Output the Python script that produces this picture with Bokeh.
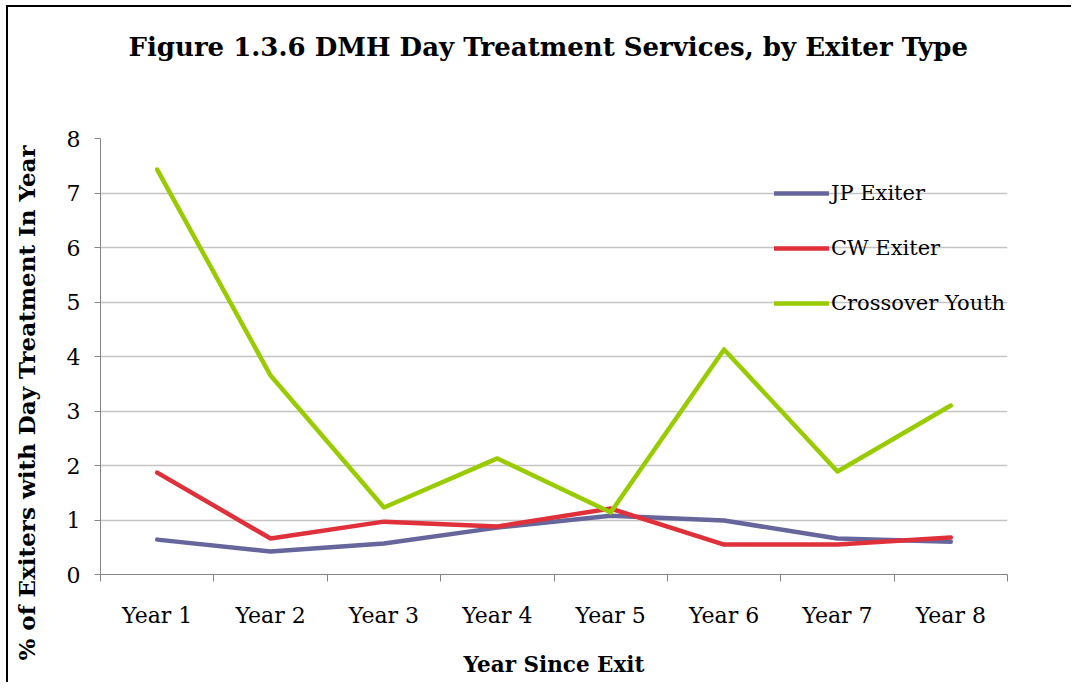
import numpy as np
from bokeh.plotting import figure
from bokeh.models import Range1d, FixedTicker, Legend, LegendItem, Title
from bokeh.embed import file_html
from bokeh.resources import INLINE

years = ["Year 1", "Year 2", "Year 3", "Year 4", "Year 5", "Year 6", "Year 7", "Year 8"]
jp_exiter = [0.64, 0.42, 0.57, 0.86, 1.08, 0.99, 0.66, 0.60]
cw_exiter = [1.87, 0.66, 0.97, 0.88, 1.21, 0.55, 0.55, 0.68]
crossover = [7.43, 3.65, 1.23, 2.13, 1.14, 4.13, 1.89, 3.10]
series_names = ["JP Exiter", "CW Exiter", "Crossover Youth"]
series_colors = ["#66669c", "#e0303a", "#99cc00"]
y_ticks = [0, 1, 2, 3, 4, 5, 6, 7, 8]

title_text = "Figure 1.3.6 DMH Day Treatment Services, by Exiter Type"
x_title = "Year Since Exit"
y_title = "% of Exiters with Day Treatment In Year"

FONT = "DejaVu Serif"

n = len(years)
xs = np.arange(n) + 0.5

W = 1065
H = 677
p = figure(width=W, height=H, output_backend="svg", toolbar_location=None,
           x_range=Range1d(0, n), y_range=Range1d(0, 8),
           min_border_left=90, min_border_right=8 + W - 1007, min_border_top=131,
           min_border_bottom=7 + H - 574)
p.title_location = None
p.outline_line_color = None
p.background_fill_color = "white"
p.border_fill_color = "white"
p.styles = {"margin-left": "8px", "margin-top": "7px",
            "box-shadow": "-2px -2px 0px 0px black"}

# title: a spacer panel next to the frame, then the title itself
p.add_layout(Title(text=" ", text_font_size="1px", standoff=70), "above")
p.add_layout(Title(text=title_text, align="left", offset=28, text_font=FONT, text_font_style="bold",
                   text_font_size="26px", text_color="black", standoff=8), "above")

# x axis
p.xaxis.ticker = FixedTicker(ticks=list(xs), minor_ticks=list(range(n + 1)))
p.xaxis.major_label_overrides = {float(x): y for x, y in zip(xs, years)}
p.xaxis.major_tick_out = 0
p.xaxis.major_tick_in = 0
p.xaxis.minor_tick_out = 7
p.xaxis.minor_tick_in = 0
p.xaxis.minor_tick_line_color = "#868686"
p.xaxis.axis_line_color = "#868686"
p.xaxis.major_label_standoff = 21
p.xaxis.major_label_text_font = FONT
p.xaxis.major_label_text_font_size = "22px"
p.xaxis.major_label_text_color = "black"
p.xaxis.axis_label = x_title
p.xaxis.axis_label_text_font = FONT
p.xaxis.axis_label_text_font_style = "bold"
p.xaxis.axis_label_text_font_size = "21.5px"
p.xaxis.axis_label_text_color = "black"
p.xaxis.axis_label_standoff = 21
p.xgrid.grid_line_color = None

# y axis
p.yaxis.ticker = FixedTicker(ticks=y_ticks)
p.yaxis.minor_tick_line_color = None
p.yaxis.major_tick_out = 6
p.yaxis.major_tick_in = 0
p.yaxis.major_tick_line_color = "#868686"
p.yaxis.axis_line_color = "#868686"
p.yaxis.major_label_standoff = 14
p.yaxis.major_label_text_font = FONT
p.yaxis.major_label_text_font_size = "22px"
p.yaxis.major_label_text_color = "black"
p.ygrid.grid_line_color = "#c4c4c4"
p.ygrid.grid_line_width = 1.5

p.add_layout(Title(text=" ", text_font_size="1px", standoff=19), "left")
p.add_layout(Title(text=y_title, align="left", offset=-86, text_font=FONT, text_font_style="bold",
                   text_font_size="23px", text_color="black", standoff=4), "left")

renderers = []
for vals, c in zip([jp_exiter, cw_exiter, crossover], series_colors):
    r = p.line(xs, vals, line_color=c, line_width=4.5, line_join="round", line_cap="round")
    renderers.append(r)

legend = Legend(items=[LegendItem(label=nm, renderers=[r]) for nm, r in zip(series_names, renderers)],
                location=(674, 259), background_fill_alpha=0, border_line_color=None,
                label_text_font=FONT, label_text_font_size="21px", label_text_color="black",
                glyph_width=55, glyph_height=20, label_height=20, spacing=31,
                label_standoff=2, padding=0, margin=0)
p.add_layout(legend, "center")

open("out.html", "w").write(file_html(p, INLINE))
